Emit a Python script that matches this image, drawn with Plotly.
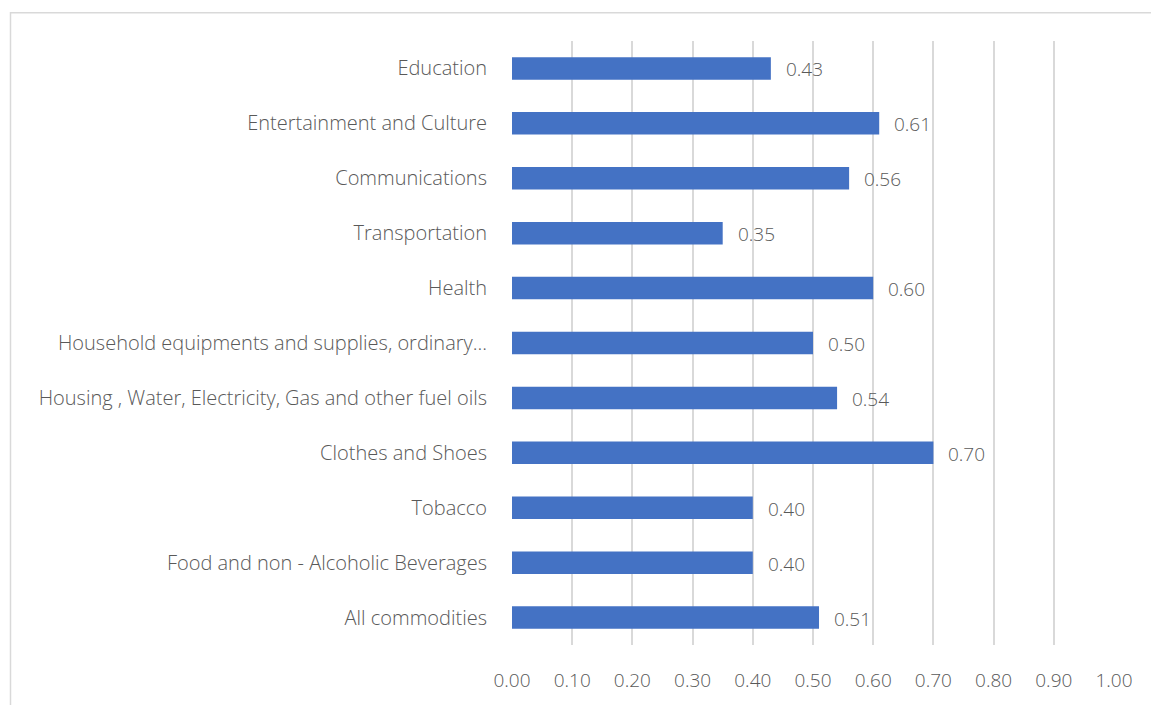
import plotly.graph_objects as go

# Categories listed bottom-to-top, as they appear on the vertical axis
categories = [
    "All commodities",
    "Food and non - Alcoholic Beverages",
    "Tobacco",
    "Clothes and Shoes",
    "Housing , Water, Electricity, Gas and other fuel oils",
    "Household equipments and supplies, ordinary...",
    "Health",
    "Transportation",
    "Communications",
    "Entertainment and Culture",
    "Education",
]
values = [0.51, 0.40, 0.40, 0.70, 0.54, 0.50, 0.60, 0.35, 0.56, 0.61, 0.43]
x_ticks = [0.0, 0.1, 0.2, 0.3, 0.4, 0.5, 0.6, 0.7, 0.8, 0.9, 1.0]

W, H = 1151, 705
L, R, T, B = 512, 37, 41, 56
pw, ph = W - L - R, H - T - B

font_family = "Open Sans, Lato, sans-serif"
font_weight = 350
text_color = "#595959"
grid_color = "#d9d9d9"

num_font = dict(family=font_family, size=19, color=text_color, weight=font_weight)
cat_font = dict(family=font_family, size=20, color=text_color, weight=font_weight)

fig = go.Figure(
    go.Bar(
        x=values,
        y=categories,
        orientation="h",
        marker=dict(color="#4472C4", line=dict(width=0)),
        width=0.41,
        hoverinfo="x+y",
    )
)

# value labels to the right of each bar
for c, v in zip(categories, values):
    fig.add_annotation(
        x=v, y=c, text=f"{v:.2f}", showarrow=False,
        xanchor="left", yanchor="middle", xshift=13, yshift=-1,
        font=num_font,
    )

# light chart border
def px_x(px):
    return (px - L) / pw

def px_y(py):
    return (H - B - py) / ph

fig.add_shape(
    type="rect", xref="paper", yref="paper",
    x0=px_x(10.5), x1=px_x(1160), y0=px_y(715), y1=px_y(12.5),
    line=dict(color=grid_color, width=1.5), fillcolor="rgba(0,0,0,0)",
    layer="below",
)

fig.update_layout(
    width=W, height=H,
    margin=dict(l=L, r=R, t=T, b=B, pad=0),
    paper_bgcolor="white", plot_bgcolor="white",
    showlegend=False,
    font=num_font,
    xaxis=dict(
        range=[0, 1.0], tickvals=x_ticks, ticktext=[f"{t:.2f}" for t in x_ticks],
        showgrid=True, gridcolor=grid_color, gridwidth=1.5,
        zeroline=False, showline=False, ticks="",
        ticklabelstandoff=22,
        tickfont=num_font,
        fixedrange=True,
    ),
    yaxis=dict(
        categoryorder="array", categoryarray=categories,
        range=[-0.5, len(categories) - 0.5],
        showgrid=False, zeroline=False, showline=False, ticks="",
        ticklabelstandoff=24,
        tickfont=cat_font,
        fixedrange=True,
    ),
)

fig.write_html("out.html")
